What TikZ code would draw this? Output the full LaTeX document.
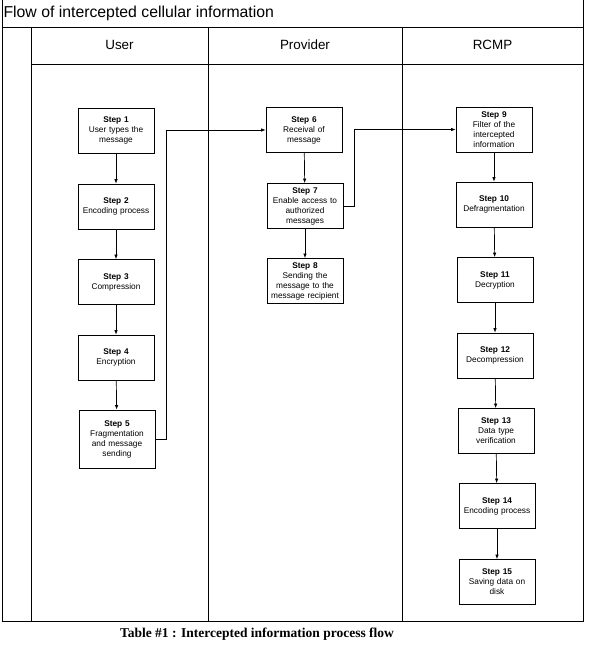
\documentclass[tikz,border=0pt]{standalone}
\usepackage{fontspec}
\setmainfont{Liberation Sans}
\newfontfamily\captionfont{Liberation Serif}
\usetikzlibrary{arrows.meta, positioning}

\tikzset{
  stepbox/.style={rectangle, draw=black, line width=0.8pt, text width=72pt, minimum height=45pt, inner sep=2pt, align=center, font=\fontsize{8.3}{10}\selectfont},
  flowarrow/.style={-{Latex[length=4.5pt, width=3.5pt]}, line width=0.7pt},
  frameline/.style={line width=0.9pt}
}

\begin{document}
\begin{tikzpicture}[x=1pt, y=-1pt]
\useasboundingbox (0,0) rectangle (589,649);

% Table frame
\draw[frameline] (2,0) -- (2,621) -- (583,621) -- (583,0);
\draw[frameline] (2,27) -- (583,27);
\draw[frameline] (31,64) -- (583,64);
\draw[frameline] (31,27) -- (31,621);
\draw[frameline] (208,27) -- (208,621);
\draw[frameline] (402,27) -- (402,621);

% Title and column headers
\node[anchor=west, font=\fontsize{15.8}{18}\selectfont] (title) at (0,13) {Flow of intercepted cellular information};
\node[font=\fontsize{13.4}{16}\selectfont] (user) at (119.5,45) {User};
\node[font=\fontsize{13.4}{16}\selectfont] (provider) at (305,45) {Provider};
\node[font=\fontsize{13.4}{16}\selectfont] (rcmp) at (492.5,45) {RCMP};

% User steps
\node[stepbox] (s1) at (116,130.5) {\textbf{Step 1}\\User types the\\message};
\node[stepbox] (s2) at (116,206.5) {\textbf{Step 2}\\Encoding process};
\node[stepbox] (s3) at (116,282) {\textbf{Step 3}\\Compression};
\node[stepbox] (s4) at (116,357.5) {\textbf{Step 4}\\Encryption};
\node[stepbox, minimum height=58pt] (s5) at (117,439) {\textbf{Step 5}\\Fragmentation\\and message\\sending};

% Provider steps
\node[stepbox] (s6) at (304,130) {\textbf{Step 6}\\Receival of\\message};
\node[stepbox] (s7) at (305,206) {\textbf{Step 7}\\Enable access to\\authorized\\messages};
\node[stepbox] (s8) at (305,281) {\textbf{Step 8}\\Sending the\\message to the\\message recipient};

% RCMP steps
\node[stepbox] (s9) at (494,129.5) {\textbf{Step 9}\\Filter of the\\intercepted\\information};
\node[stepbox] (s10) at (494,204.5) {\textbf{Step 10}\\Defragmentation};
\node[stepbox] (s11) at (495,280) {\textbf{Step 11}\\Decryption};
\node[stepbox] (s12) at (495,355.5) {\textbf{Step 12}\\Decompression};
\node[stepbox] (s13) at (496,431) {\textbf{Step 13}\\Data type\\verification};
\node[stepbox] (s14) at (497,506) {\textbf{Step 14}\\Encoding process};
\node[stepbox] (s15) at (497,582) {\textbf{Step 15}\\Saving data on\\disk};

% Draw connections
\draw[flowarrow] (s1) -- (s2);
\draw[flowarrow] (s2) -- (s3);
\draw[flowarrow] (s3) -- (s4);
\draw[flowarrow] (s4) -- (s5);
\draw[flowarrow] (s5.east) -- ++(11,0) |- (s6.west);
\draw[flowarrow] (s6) -- (s7);
\draw[flowarrow] (s7) -- (s8);
\draw[flowarrow] (s7.east) -- ++(11,0) |- (s9.west);
\draw[flowarrow] (s9) -- (s10);
\draw[flowarrow] (s10) -- (s11);
\draw[flowarrow] (s11) -- (s12);
\draw[flowarrow] (s12) -- (s13);
\draw[flowarrow] (s13) -- (s14);
\draw[flowarrow] (s14) -- (s15);

% Caption
\node[font=\captionfont\bfseries\fontsize{13.5}{16}\selectfont] (caption) at (257,634) {Table \#1 : Intercepted information process flow};
\end{tikzpicture}
\end{document}
